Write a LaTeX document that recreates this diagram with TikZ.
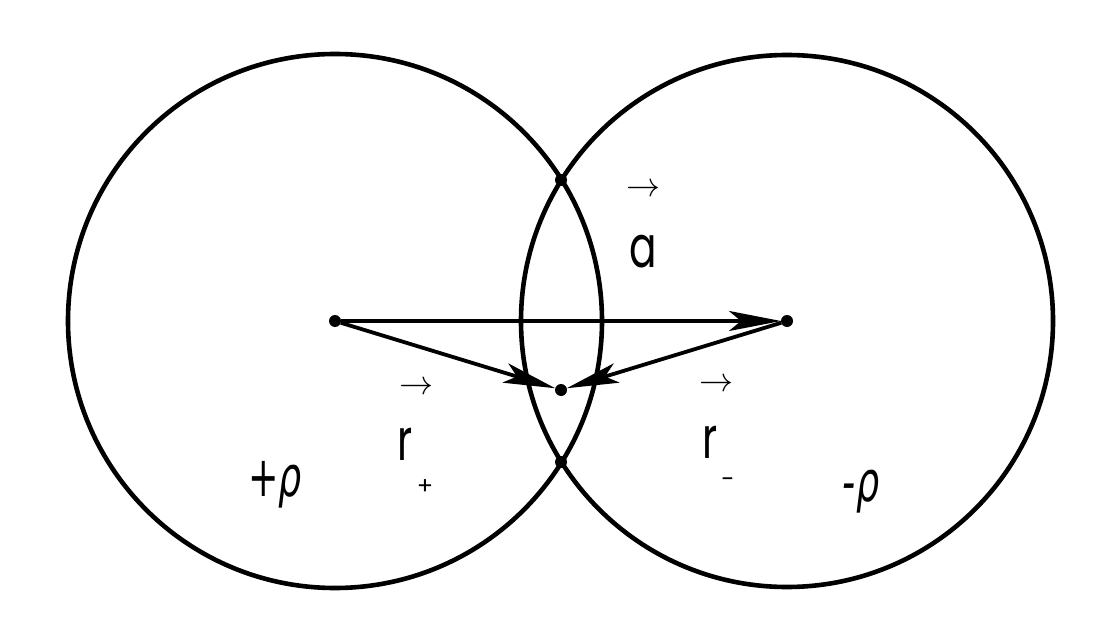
\documentclass[tikz,border=0pt]{standalone}
\usepackage{fix-cm}
\usepackage{fontspec}
\newfontfamily\letterfont{Poppins}
\newfontfamily\greekfont{DejaVu Sans}
\usetikzlibrary{arrows.meta,positioning}
\tikzset{charge layout/.style={%
    y=-1pt,%
    x=1pt,%
    every node/.style={%
        inner sep=0pt, outer sep=0pt%
    }%
}}
\tikzset{dot/.style={%
    circle, fill=black, minimum size=12pt%
}}
\tikzset{sphere/.style={%
    line width=4.6pt%
}}
\tikzset{vector/.style={%
    line width=3.8pt, -{Stealth[length=52pt,width=20pt,inset=12pt]}%
}}
\tikzset{vec letter/.style={font=\letterfont\fontsize{58}{58}\selectfont}}
\tikzset{vec arrow/.style={font=\fontsize{34}{34}\selectfont}}
\tikzset{vec index/.style={font=\letterfont\fontsize{24}{24}\selectfont}}
\tikzset{density/.style={font=\greekfont\itshape\fontsize{56}{56}\selectfont}}

\begin{document}
\begin{tikzpicture}[charge layout]
    \useasboundingbox (0,0) rectangle (1113,644);

    % centres and points
    \node (pplus) at (335,321) [dot] {};
    \node (pminus) at (787,321) [dot] {};
    \node (pr) at (561,390) [dot] {};
    \node (ptop) at (561,180) [dot] {};
    \node (pbottom) at (561,462) [dot] {};

    % the two spheres
    \draw[sphere] (pplus.center) circle[radius=267pt];
    \draw[sphere] (pminus.center) circle[radius=266pt];

    % vectors
    \draw[vector] (pplus) -- (pminus);
    \draw[vector] (pplus) -- (pr);
    \draw[vector] (pminus) -- (pr);

    % labels
    \node[vec letter] (la) at (643,252) {\scalebox{0.7}[1]{a}};
    \node[vec arrow] (laarrow) at (643,190) {$\rightarrow$};

    \node[vec letter] (lrplus) at (405,444) {\scalebox{0.7}[1]{r}};
    \node[vec arrow] (lrplusarrow) at (416,388) {$\rightarrow$};
    \node[vec index] (lrplusindex) at (425,487) {+};

    \node[vec letter] (lrminus) at (710,442) {\scalebox{0.7}[1]{r}};
    \node[vec arrow] (lrminusarrow) at (716,385) {$\rightarrow$};
    \node[vec index] (lrminusindex) at (728,483) {-};

    \node[density] (lrhoplus) at (275,485) {\scalebox{0.65}[1]{+ρ}};
    \node[density] (lrhominus) at (861,492) {\scalebox{0.65}[1]{-ρ}};
\end{tikzpicture}
\end{document}
